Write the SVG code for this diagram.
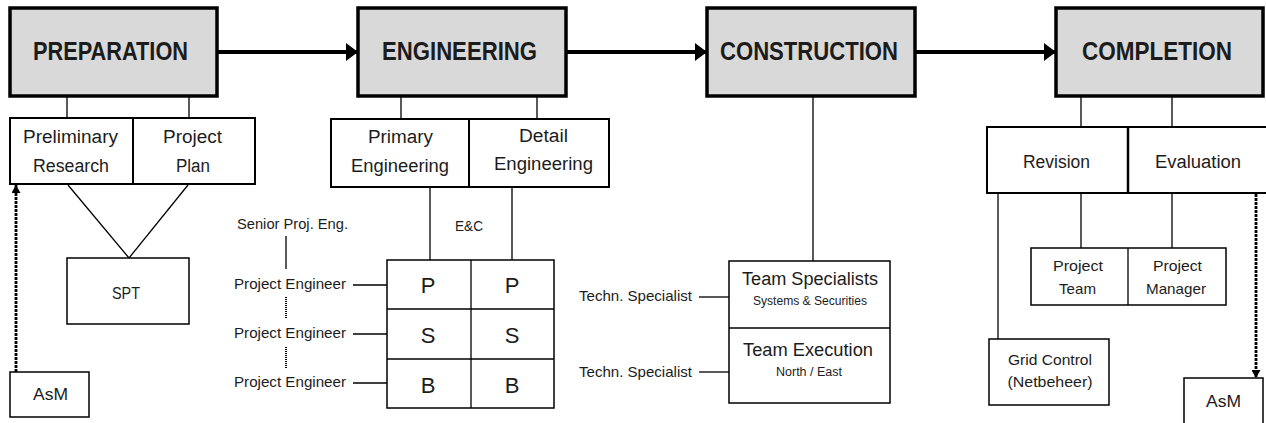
<svg xmlns="http://www.w3.org/2000/svg" width="1266" height="423" viewBox="0 0 1266 423">
<style>
text{font-family:"Liberation Sans",Arial,sans-serif;fill:#1c1c1c;text-anchor:middle}
.title{font-weight:bold;font-size:25px}
.phase{fill:#d9d9d9;stroke:#000;stroke-width:3.5}
.box{fill:#fff;stroke:#000;stroke-width:2}
.thin{fill:#fff;stroke:#000;stroke-width:1.5}
.ln{stroke:#000;stroke-width:1.3;fill:none}
.flow{stroke:#000;stroke-width:4;fill:none}
.dash{stroke:#000;stroke-width:2.8;stroke-dasharray:3 1;fill:none}
.dot{stroke:#000;stroke-width:2;stroke-dasharray:1 1;fill:none}
.t18{font-size:18px}
.t15{font-size:15px}
.t14{font-size:14px}
.t12{font-size:12px}
.t22{font-size:22px}
.t17{font-size:17px}
</style>
<defs>
<marker id="big" markerUnits="userSpaceOnUse" markerWidth="12" markerHeight="18" refX="12" refY="9" orient="auto">
<path d="M0,0 L12,9 L0,18 Z" fill="#000"/>
</marker>
<marker id="small" markerUnits="userSpaceOnUse" markerWidth="8" markerHeight="9" refX="8" refY="4.5" orient="auto">
<path d="M0,0 L8,4.5 L0,9 Z" fill="#000"/>
</marker>
</defs>

<g id="connectors">
<line class="flow" x1="217" y1="52" x2="358" y2="52" marker-end="url(#big)"/>
<line class="flow" x1="566" y1="52" x2="707" y2="52" marker-end="url(#big)"/>
<line class="flow" x1="915" y1="52" x2="1056" y2="52" marker-end="url(#big)"/>
<!-- preparation -->
<line class="ln" x1="67" y1="96" x2="67" y2="120"/>
<line class="ln" x1="189" y1="96" x2="189" y2="124"/>
<line class="ln" x1="68" y1="185" x2="129" y2="258"/>
<line class="ln" x1="188" y1="185" x2="129" y2="258"/>
<line class="dash" x1="16" y1="372" x2="16" y2="185" marker-end="url(#small)"/>
<!-- engineering -->
<line class="ln" x1="401" y1="96" x2="401" y2="124"/>
<line class="ln" x1="537" y1="96" x2="537" y2="126"/>
<line class="ln" x1="430" y1="187" x2="430" y2="265"/>
<line class="ln" x1="512" y1="187" x2="512" y2="265"/>
<line class="ln" x1="286" y1="236" x2="286" y2="269"/>
<line class="dot" x1="286" y1="297" x2="286" y2="318"/>
<line class="dot" x1="286" y1="347" x2="286" y2="368"/>
<line class="ln" x1="353" y1="285" x2="387" y2="285"/>
<line class="ln" x1="353" y1="334" x2="387" y2="334"/>
<line class="ln" x1="353" y1="383" x2="387" y2="383"/>
<!-- construction -->
<line class="ln" x1="813" y1="96" x2="813" y2="265"/>
<line class="ln" x1="699" y1="297" x2="729" y2="297"/>
<line class="ln" x1="699" y1="372" x2="729" y2="372"/>
<!-- completion -->
<line class="ln" x1="1081" y1="96" x2="1081" y2="129"/>
<line class="ln" x1="1172" y1="96" x2="1172" y2="129"/>
<line class="ln" x1="1081" y1="193" x2="1081" y2="248"/>
<line class="ln" x1="1172" y1="193" x2="1172" y2="248"/>
<line class="ln" x1="998" y1="193" x2="998" y2="339"/>
<line class="dash" x1="1256" y1="194" x2="1256" y2="378" marker-end="url(#small)"/>
</g>

<g id="preparation">
<rect class="phase" x="10" y="8" width="207" height="88"/>
<text class="title" x="110.5" y="60" textLength="155" lengthAdjust="spacingAndGlyphs">PREPARATION</text>
</g>
<g id="engineering">
<rect class="phase" x="358" y="8" width="208" height="88"/>
<text class="title" x="459.5" y="60" textLength="155" lengthAdjust="spacingAndGlyphs">ENGINEERING</text>
</g>
<g id="construction">
<rect class="phase" x="707" y="8" width="208" height="88"/>
<text class="title" x="809" y="60" textLength="178" lengthAdjust="spacingAndGlyphs">CONSTRUCTION</text>
</g>
<g id="completion">
<rect class="phase" x="1056" y="8" width="207" height="88"/>
<text class="title" x="1157" y="60" textLength="150" lengthAdjust="spacingAndGlyphs">COMPLETION</text>
</g>

<g id="prep-tasks">
<rect class="box" x="10" y="118" width="245" height="66"/>
<line stroke="#000" stroke-width="2" x1="133" y1="118" x2="133" y2="184"/>
<text class="t18" x="70.5" y="143" textLength="95" lengthAdjust="spacingAndGlyphs">Preliminary</text>
<text class="t18" x="71" y="172" textLength="76" lengthAdjust="spacingAndGlyphs">Research</text>
<text class="t18" x="192.5" y="143" textLength="59" lengthAdjust="spacingAndGlyphs">Project</text>
<text class="t18" x="193" y="172" textLength="34" lengthAdjust="spacingAndGlyphs">Plan</text>
</g>
<g id="spt">
<rect class="thin" x="67" y="258" width="122" height="66"/>
<text class="t17" x="126" y="299" textLength="28" lengthAdjust="spacingAndGlyphs">SPT</text>
</g>
<g id="asm-left">
<rect class="thin" x="10" y="372" width="79" height="45"/>
<text class="t17" x="50.5" y="400" textLength="35" lengthAdjust="spacingAndGlyphs">AsM</text>
</g>

<g id="eng-tasks">
<rect class="box" x="331" y="119" width="278" height="68"/>
<line stroke="#000" stroke-width="2" x1="469" y1="119" x2="469" y2="187"/>
<text class="t18" x="400.5" y="143" textLength="65" lengthAdjust="spacingAndGlyphs">Primary</text>
<text class="t18" x="400" y="172" textLength="98" lengthAdjust="spacingAndGlyphs">Engineering</text>
<text class="t18" x="543.5" y="142" textLength="49" lengthAdjust="spacingAndGlyphs">Detail</text>
<text class="t18" x="543.5" y="170" textLength="99" lengthAdjust="spacingAndGlyphs">Engineering</text>
</g>
<g id="ec-label">
<text class="t14" x="469" y="231" textLength="28" lengthAdjust="spacingAndGlyphs">E&amp;C</text>
</g>
<g id="engineers">
<text class="t15" x="292.5" y="229" textLength="111" lengthAdjust="spacingAndGlyphs">Senior Proj. Eng.</text>
<text class="t15" x="290" y="289" textLength="112" lengthAdjust="spacingAndGlyphs">Project Engineer</text>
<text class="t15" x="290" y="338" textLength="112" lengthAdjust="spacingAndGlyphs">Project Engineer</text>
<text class="t15" x="290" y="387" textLength="112" lengthAdjust="spacingAndGlyphs">Project Engineer</text>
</g>
<g id="psb-grid">
<rect class="thin" x="387" y="260" width="167" height="148"/>
<line class="ln" stroke-width="1.5" x1="471" y1="260" x2="471" y2="408"/>
<line class="ln" stroke-width="1.5" x1="387" y1="309" x2="554" y2="309"/>
<line class="ln" stroke-width="1.5" x1="387" y1="359" x2="554" y2="359"/>
<text class="t22" x="428" y="293">P</text>
<text class="t22" x="512" y="293">P</text>
<text class="t22" x="428" y="343">S</text>
<text class="t22" x="512" y="343">S</text>
<text class="t22" x="428" y="393">B</text>
<text class="t22" x="512" y="393">B</text>
</g>

<g id="specialists">
<text class="t15" x="635.5" y="301" textLength="113" lengthAdjust="spacingAndGlyphs">Techn. Specialist</text>
<text class="t15" x="635.5" y="377" textLength="113" lengthAdjust="spacingAndGlyphs">Techn. Specialist</text>
</g>
<g id="teams">
<rect class="thin" x="729" y="261" width="161" height="142"/>
<line class="ln" stroke-width="1.5" x1="729" y1="328" x2="890" y2="328"/>
<text class="t18" x="810" y="285" textLength="136" lengthAdjust="spacingAndGlyphs">Team Specialists</text>
<text class="t12" x="810" y="305" textLength="114" lengthAdjust="spacingAndGlyphs">Systems &amp; Securities</text>
<text class="t18" x="808" y="356" textLength="130" lengthAdjust="spacingAndGlyphs">Team Execution</text>
<text class="t12" x="809" y="376" textLength="66" lengthAdjust="spacingAndGlyphs">North / East</text>
</g>

<g id="comp-tasks">
<rect class="box" x="987" y="127" width="290" height="66" stroke-width="2.5"/>
<line stroke="#000" stroke-width="2.5" x1="1128" y1="127" x2="1128" y2="193"/>
<text class="t18" x="1056.5" y="168" textLength="67" lengthAdjust="spacingAndGlyphs">Revision</text>
<text class="t18" x="1198" y="168" textLength="86" lengthAdjust="spacingAndGlyphs">Evaluation</text>
</g>
<g id="project-roles">
<rect class="thin" x="1031" y="248" width="195" height="57"/>
<line class="ln" stroke-width="1.5" x1="1128" y1="248" x2="1128" y2="305"/>
<text class="t15" x="1078" y="271" textLength="50" lengthAdjust="spacingAndGlyphs">Project</text>
<text class="t15" x="1077.5" y="294" textLength="37" lengthAdjust="spacingAndGlyphs">Team</text>
<text class="t15" x="1177.5" y="271" textLength="49" lengthAdjust="spacingAndGlyphs">Project</text>
<text class="t15" x="1176" y="294" textLength="60" lengthAdjust="spacingAndGlyphs">Manager</text>
</g>
<g id="grid-control">
<rect class="thin" x="989" y="339" width="120" height="66"/>
<text class="t15" x="1050" y="365" textLength="84" lengthAdjust="spacingAndGlyphs">Grid Control</text>
<text class="t15" x="1050" y="387" textLength="85" lengthAdjust="spacingAndGlyphs">(Netbeheer)</text>
</g>
<g id="asm-right">
<rect class="thin" x="1184" y="378" width="79" height="50"/>
<text class="t17" x="1223.5" y="407" textLength="35" lengthAdjust="spacingAndGlyphs">AsM</text>
</g>
</svg>
